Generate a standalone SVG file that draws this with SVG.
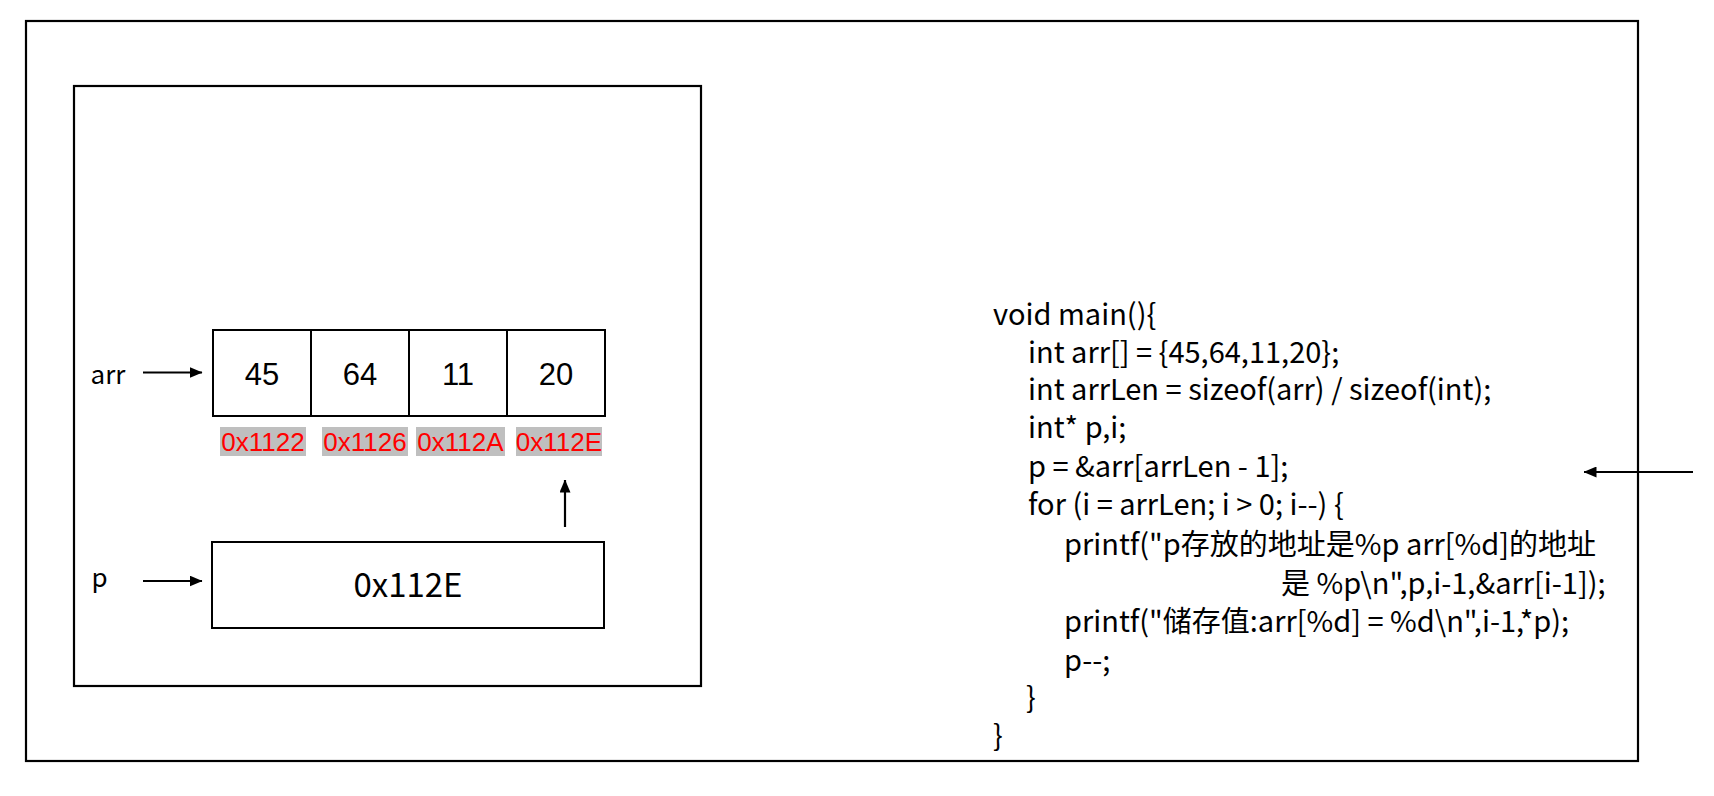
<svg xmlns="http://www.w3.org/2000/svg" width="1714" height="796" viewBox="0 0 1714 796">
<defs>
<marker id="ah" markerWidth="13" markerHeight="11" refX="12.5" refY="5.5" orient="auto" markerUnits="userSpaceOnUse">
<path d="M0,0 L13,5.5 L0,11 Z" fill="#000"/>
</marker>
<style>
.box{fill:none;stroke:#000;stroke-width:2.2}
.cell{fill:#fff;stroke:#000;stroke-width:2}
.num{font-family:"Liberation Sans",Arial,sans-serif;font-size:31px;fill:#000;text-anchor:middle}
.addr{font-family:"Liberation Sans",Arial,sans-serif;font-size:26px;fill:#FF0000;text-anchor:middle}
.addrbg{fill:#BFBFBF}
.lbl{font-family:"Noto Sans CJK SC","Noto Sans",sans-serif;font-size:26px;fill:#000}
.code{font-family:"Noto Sans CJK SC","Noto Sans",sans-serif;font-size:29px;fill:#000}
.conn{stroke:#000;stroke-width:2.2;fill:none;marker-end:url(#ah)}
</style>
</defs>
<rect width="1714" height="796" fill="#fff"/>
<g id="outer"><rect class="box" x="26" y="21" width="1612" height="740"/></g>
<g id="memory"><rect class="box" x="74" y="86" width="627" height="600"/></g>
<g id="arr-label"><text class="lbl" x="90.5" y="383.5">arr</text></g>
<g id="arr">
<rect class="cell" x="213" y="330" width="98" height="86"/>
<rect class="cell" x="311" y="330" width="98" height="86"/>
<rect class="cell" x="409" y="330" width="98" height="86"/>
<rect class="cell" x="507" y="330" width="98" height="86"/>
<text class="num" x="262" y="385">45</text>
<text class="num" x="360" y="385">64</text>
<text class="num" x="458" y="385">11</text>
<text class="num" x="556" y="385">20</text>
</g>
<g id="addresses">
<rect class="addrbg" x="220" y="427" width="86" height="29"/>
<rect class="addrbg" x="322" y="427" width="86" height="29"/>
<rect class="addrbg" x="416" y="427" width="89" height="29"/>
<rect class="addrbg" x="516" y="427" width="86" height="29"/>
<text class="addr" x="263" y="451">0x1122</text>
<text class="addr" x="365" y="451">0x1126</text>
<text class="addr" x="460.5" y="451">0x112A</text>
<text class="addr" x="559" y="451">0x112E</text>
</g>
<g id="p-label"><text class="lbl" x="91.5" y="587">p</text></g>
<g id="p">
<rect class="cell" x="212" y="542" width="392" height="86"/>
<text class="code" x="408" y="597" text-anchor="middle" style="font-size:33px">0x112E</text>
</g>
<g id="code">
<text class="code" x="993" y="324.5">void main(){</text>
<text class="code" x="1028" y="362.5">int arr[] = {45,64,11,20};</text>
<text class="code" x="1028" y="400">int arrLen = sizeof(arr) / sizeof(int);</text>
<text class="code" x="1028" y="438">int* p,i;</text>
<text class="code" x="1028" y="477">p = &amp;arr[arrLen - 1];</text>
<text class="code" x="1028" y="515">for (i = arrLen; i &gt; 0; i--) {</text>
<text class="code" x="1064" y="555">printf("p存放的地址是%p arr[%d]的地址</text>
<text class="code" x="1281" y="594">是 %p\n",p,i-1,&amp;arr[i-1]);</text>
<text class="code" x="1064" y="632">printf("储存值:arr[%d] = %d\n",i-1,*p);</text>
<text class="code" x="1064" y="671">p--;</text>
<text class="code" x="1026" y="708">}</text>
<text class="code" x="993" y="746">}</text>
</g>
<g id="connectors">
<line class="conn" x1="143" y1="372.5" x2="202" y2="372.5"/>
<line class="conn" x1="143" y1="581" x2="202" y2="581"/>
<line class="conn" x1="565" y1="527" x2="565" y2="480"/>
<line class="conn" x1="1693" y1="472" x2="1584" y2="472"/>
</g>
</svg>
